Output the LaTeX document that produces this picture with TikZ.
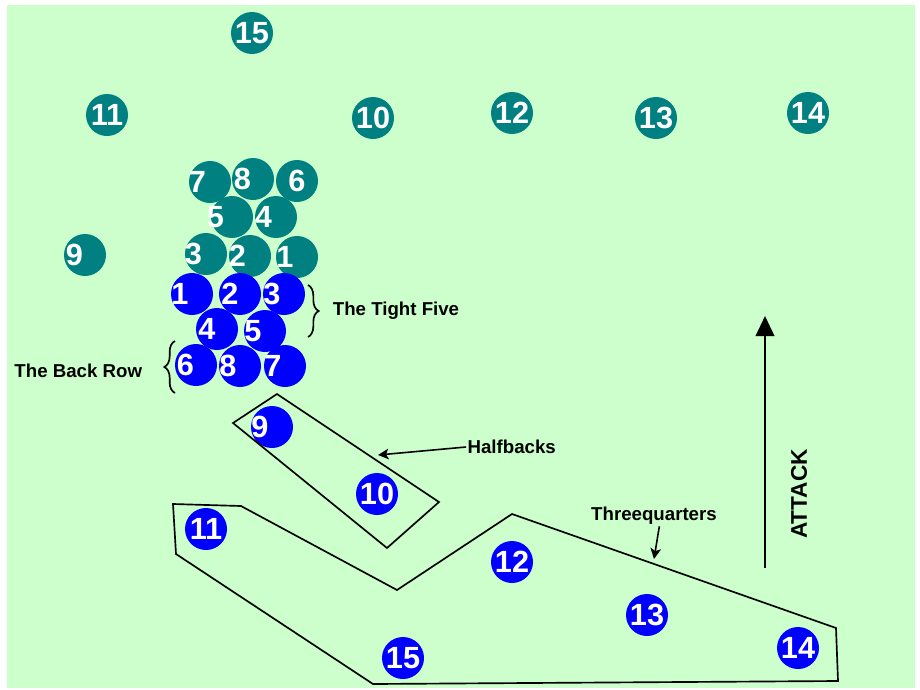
\documentclass[tikz,border=0pt]{standalone}
\usepackage{fontspec}
\newfontfamily\arial{Liberation Sans}
\usepackage{tikz}
\usetikzlibrary{positioning, arrows.meta, decorations.pathreplacing}
\definecolor{pitch}{HTML}{CCFFCC}
\definecolor{awayteal}{HTML}{008080}
\definecolor{homeblue}{HTML}{0000FF}

\tikzset{
  player/.style={circle, minimum size=31.5pt, inner sep=0pt, text=white,
    font=\arial\bfseries\fontsize{23}{25}\selectfont},
  away/.style={player, fill=awayteal},
  home/.style={player, fill=homeblue},
  num/.style={text=white, inner sep=0pt,
    font=\arial\bfseries\fontsize{23}{25}\selectfont},
  tag/.style={font=\arial\bfseries\fontsize{14}{16}\selectfont, inner sep=1pt},
  group/.style={draw, line width=1.25pt, line join=miter},
  pointer/.style={-{Stealth[length=8pt, width=8pt, inset=2pt]}, line width=1.2pt},
  curly/.style={decorate, decoration={brace, amplitude=8pt}, line width=1.25pt}
}

\begin{document}
\begin{tikzpicture}[x=0.75pt, y=-0.75pt]
	\useasboundingbox (0,0) rectangle (920,689);
	\fill[pitch] (7,5) rectangle (915,688);

	% defending side
	\node[away] (g15) at (252,33) {15};
	\node[away] (g11) at (107,115) {11};
	\node[away] (g10) at (373,118) {10};
	\node[away] (g12) at (512,113) {12};
	\node[away] (g13) at (656,118) {13};
	\node[away] (g14) at (808,113) {14};
	\node[away, label={[num, xshift=-9.5pt]center:7}] (g7) at (210,182) {};
	\node[away, label={[num, xshift=-8pt]center:8}] (g8) at (253,179) {};
	\node[away] (g6) at (297,181) {6};
	\node[away, label={[num, xshift=-12.5pt]center:5}] (g5) at (232,217) {};
	\node[away, label={[num, xshift=-9.5pt]center:4}] (g4) at (276,217) {};
	\node[away, label={[num, xshift=-9.5pt]center:3}] (g3) at (206,254) {};
	\node[away, label={[num, xshift=-9.5pt]center:2}] (g2) at (250,256) {};
	\node[away, label={[num, xshift=-9pt]center:1}] (g1) at (297,257) {};
	\node[away, label={[num, xshift=-8pt]center:9}] (g9) at (85,255) {};

	% attacking side
	\node[home, label={[num, xshift=-9pt]center:1}] (b1) at (192,294) {};
	\node[home, label={[num, xshift=-7.5pt]center:2}] (b2) at (240,294) {};
	\node[home, label={[num, xshift=-9pt]center:3}] (b3) at (284,294) {};
	\node[home, label={[num, xshift=-7.5pt]center:4}] (b4) at (217,329) {};
	\node[home, label={[num, xshift=-9pt]center:5}] (b5) at (265,331) {};
	\node[home, label={[num, xshift=-8pt]center:6}] (b6) at (196,365) {};
	\node[home, label={[num, xshift=-9pt]center:8}] (b8) at (240,366) {};
	\node[home, label={[num, xshift=-9pt]center:7}] (b7) at (285,366) {};
	\node[home, label={[num, xshift=-9pt]center:9}] (b9) at (272,427) {};
	\node[home] (b10) at (377,494) {10};
	\node[home] (b11) at (206,529) {11};
	\node[home] (b12) at (512,562) {12};
	\node[home] (b13) at (647,615) {13};
	\node[home] (b14) at (798,648) {14};
	\node[home] (b15) at (403,658) {15};

	% groupings
	\draw[group] (233,423) -- (277,394) -- (439,502) -- (387,548) -- cycle;
	\draw[group] (173,504) -- (241,506) -- (397,590) -- (512,514) -- (836,628)
		-- (838,681) -- (373,684) -- (176,554) -- cycle;

	% braces
	\draw[curly] (308,285) -- (308,337);
	\coordinate (tftip) at (330,311);
	\node[tag, right=1pt of tftip] (tightfive) {The Tight Five};
	\draw[curly] (175,393) -- (175,341);
	\coordinate (brtip) at (153,367);
	\node[tag, left=7pt of brtip, yshift=-3pt] (backrow) {The Back Row};

	% pointers
	\node[tag, anchor=west] (halfbacks) at (466,447) {Halfbacks};
	\coordinate (hbtip) at (378,455);
	\draw[pointer] (halfbacks.west) -- (hbtip);
	\node[tag] (threeq) at (654,516) {Threequarters};
	\coordinate (tqtip) at (654,559);
	\draw[pointer] ([xshift=4pt]threeq.south) -- (tqtip);

	% direction of play
	\coordinate (atkfoot) at (765,568);
	\coordinate (atkhead) at (765,316);
	\draw[-{Triangle[length=15pt, width=14pt]}, line width=1.2pt] (atkfoot) -- (atkhead);
	\node[tag, rotate=90, font=\arial\bfseries\fontsize{17}{19}\selectfont] (attack) at (799,494) {ATTACK};
\end{tikzpicture}
\end{document}
